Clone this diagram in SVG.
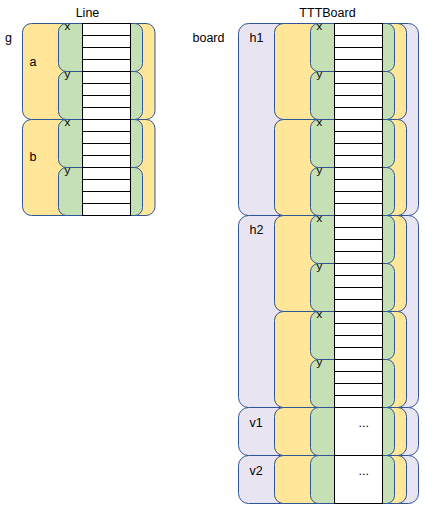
<svg xmlns="http://www.w3.org/2000/svg" width="425" height="507" viewBox="0 0 425 507">
<defs>
<style>
.p{fill:#E8E4F2;stroke:#2F5597;stroke-width:1}
.yl{fill:#FFE699;stroke:#2F5597;stroke-width:1}
.gr{fill:#C5E0B4;stroke:#2F5597;stroke-width:1}
.c{fill:#FFFFFF;stroke:#000000;stroke-width:1}
text{font-family:"Liberation Sans",Arial,sans-serif;font-size:12.5px;fill:#000}
.s{font-size:11.5px}
</style>
</defs>
<rect width="425" height="507" fill="#FFFFFF"/>
<g id="connectors"></g>

<text x="87.5" y="17" text-anchor="middle">Line</text>
<text x="327.5" y="17" text-anchor="middle">TTTBoard</text>

<!-- Line diagram -->
<g id="g">
<text x="5" y="42">g</text>
<g id="g-a">
<rect class="yl" x="22.5" y="23.5" width="132.5" height="96" rx="9"/>
<text x="29.5" y="66">a</text>
<g id="g-a-x"><rect class="gr" x="58.5" y="23.5" width="84" height="48" rx="8"/><text class="s" x="64.5" y="30">x</text></g>
<g id="g-a-y"><rect class="gr" x="58.5" y="71.5" width="84" height="48" rx="8"/><text class="s" x="64.5" y="78">y</text></g>
</g>
<g id="g-b">
<rect class="yl" x="22.5" y="119.5" width="132.5" height="96" rx="9"/>
<text x="29.5" y="161">b</text>
<g id="g-b-x"><rect class="gr" x="58.5" y="119.5" width="84" height="48" rx="8"/><text class="s" x="64.5" y="126">x</text></g>
<g id="g-b-y"><rect class="gr" x="58.5" y="167.5" width="84" height="48" rx="8"/><text class="s" x="64.5" y="174">y</text></g>
</g>
<g id="g-cells">
<rect class="c" x="82.5" y="23.5" width="48" height="12"/><rect class="c" x="82.5" y="35.5" width="48" height="12"/><rect class="c" x="82.5" y="47.5" width="48" height="12"/><rect class="c" x="82.5" y="59.5" width="48" height="12"/>
<rect class="c" x="82.5" y="71.5" width="48" height="12"/><rect class="c" x="82.5" y="83.5" width="48" height="12"/><rect class="c" x="82.5" y="95.5" width="48" height="12"/><rect class="c" x="82.5" y="107.5" width="48" height="12"/>
<rect class="c" x="82.5" y="119.5" width="48" height="12"/><rect class="c" x="82.5" y="131.5" width="48" height="12"/><rect class="c" x="82.5" y="143.5" width="48" height="12"/><rect class="c" x="82.5" y="155.5" width="48" height="12"/>
<rect class="c" x="82.5" y="167.5" width="48" height="12"/><rect class="c" x="82.5" y="179.5" width="48" height="12"/><rect class="c" x="82.5" y="191.5" width="48" height="12"/><rect class="c" x="82.5" y="203.5" width="48" height="12"/>
</g>
</g>

<!-- TTTBoard diagram -->
<g id="board">
<text x="192.5" y="42">board</text>
<g id="h1">
<rect class="p" x="238.5" y="23.5" width="180" height="192" rx="10"/>
<text x="249.5" y="42">h1</text>
<g id="h1-a">
<rect class="yl" x="274.5" y="23.5" width="132" height="96" rx="9"/>
<rect class="gr" x="310.5" y="23.5" width="84" height="48" rx="8"/><text class="s" x="316.5" y="30">x</text>
<rect class="gr" x="310.5" y="71.5" width="84" height="48" rx="8"/><text class="s" x="316.5" y="78">y</text>
</g>
<g id="h1-b">
<rect class="yl" x="274.5" y="119.5" width="132" height="96" rx="9"/>
<rect class="gr" x="310.5" y="119.5" width="84" height="48" rx="8"/><text class="s" x="316.5" y="126">x</text>
<rect class="gr" x="310.5" y="167.5" width="84" height="48" rx="8"/><text class="s" x="316.5" y="174">y</text>
</g>
</g>
<g id="h2">
<rect class="p" x="238.5" y="215.5" width="180" height="192" rx="10"/>
<text x="249.5" y="234">h2</text>
<g id="h2-a">
<rect class="yl" x="274.5" y="215.5" width="132" height="96" rx="9"/>
<rect class="gr" x="310.5" y="215.5" width="84" height="48" rx="8"/><text class="s" x="316.5" y="222">x</text>
<rect class="gr" x="310.5" y="263.5" width="84" height="48" rx="8"/><text class="s" x="316.5" y="270">y</text>
</g>
<g id="h2-b">
<rect class="yl" x="274.5" y="311.5" width="132" height="96" rx="9"/>
<rect class="gr" x="310.5" y="311.5" width="84" height="48" rx="8"/><text class="s" x="316.5" y="318">x</text>
<rect class="gr" x="310.5" y="359.5" width="84" height="48" rx="8"/><text class="s" x="316.5" y="366">y</text>
</g>
</g>
<g id="board-cells">
<rect class="c" x="334.5" y="23.5" width="48" height="12"/><rect class="c" x="334.5" y="35.5" width="48" height="12"/><rect class="c" x="334.5" y="47.5" width="48" height="12"/><rect class="c" x="334.5" y="59.5" width="48" height="12"/>
<rect class="c" x="334.5" y="71.5" width="48" height="12"/><rect class="c" x="334.5" y="83.5" width="48" height="12"/><rect class="c" x="334.5" y="95.5" width="48" height="12"/><rect class="c" x="334.5" y="107.5" width="48" height="12"/>
<rect class="c" x="334.5" y="119.5" width="48" height="12"/><rect class="c" x="334.5" y="131.5" width="48" height="12"/><rect class="c" x="334.5" y="143.5" width="48" height="12"/><rect class="c" x="334.5" y="155.5" width="48" height="12"/>
<rect class="c" x="334.5" y="167.5" width="48" height="12"/><rect class="c" x="334.5" y="179.5" width="48" height="12"/><rect class="c" x="334.5" y="191.5" width="48" height="12"/><rect class="c" x="334.5" y="203.5" width="48" height="12"/>
<rect class="c" x="334.5" y="215.5" width="48" height="12"/><rect class="c" x="334.5" y="227.5" width="48" height="12"/><rect class="c" x="334.5" y="239.5" width="48" height="12"/><rect class="c" x="334.5" y="251.5" width="48" height="12"/>
<rect class="c" x="334.5" y="263.5" width="48" height="12"/><rect class="c" x="334.5" y="275.5" width="48" height="12"/><rect class="c" x="334.5" y="287.5" width="48" height="12"/><rect class="c" x="334.5" y="299.5" width="48" height="12"/>
<rect class="c" x="334.5" y="311.5" width="48" height="12"/><rect class="c" x="334.5" y="323.5" width="48" height="12"/><rect class="c" x="334.5" y="335.5" width="48" height="12"/><rect class="c" x="334.5" y="347.5" width="48" height="12"/>
<rect class="c" x="334.5" y="359.5" width="48" height="12"/><rect class="c" x="334.5" y="371.5" width="48" height="12"/><rect class="c" x="334.5" y="383.5" width="48" height="12"/><rect class="c" x="334.5" y="395.5" width="48" height="12"/>
</g>
<g id="v1">
<rect class="p" x="238.5" y="407.5" width="180" height="48" rx="10"/>
<text x="249.5" y="426.5">v1</text>
<rect class="yl" x="274.5" y="407.5" width="132" height="48" rx="9"/>
<rect class="gr" x="310.5" y="407.5" width="84" height="48" rx="8"/>
<rect class="c" x="334.5" y="407.5" width="48" height="48"/>
<text x="358.5" y="426.5">...</text>
</g>
<g id="v2">
<rect class="p" x="238.5" y="455.5" width="180" height="48" rx="10"/>
<text x="249.5" y="474.5">v2</text>
<rect class="yl" x="274.5" y="455.5" width="132" height="48" rx="9"/>
<rect class="gr" x="310.5" y="455.5" width="84" height="48" rx="8"/>
<rect class="c" x="334.5" y="455.5" width="48" height="48"/>
<text x="358.5" y="474.5">...</text>
</g>
</g>
</svg>
